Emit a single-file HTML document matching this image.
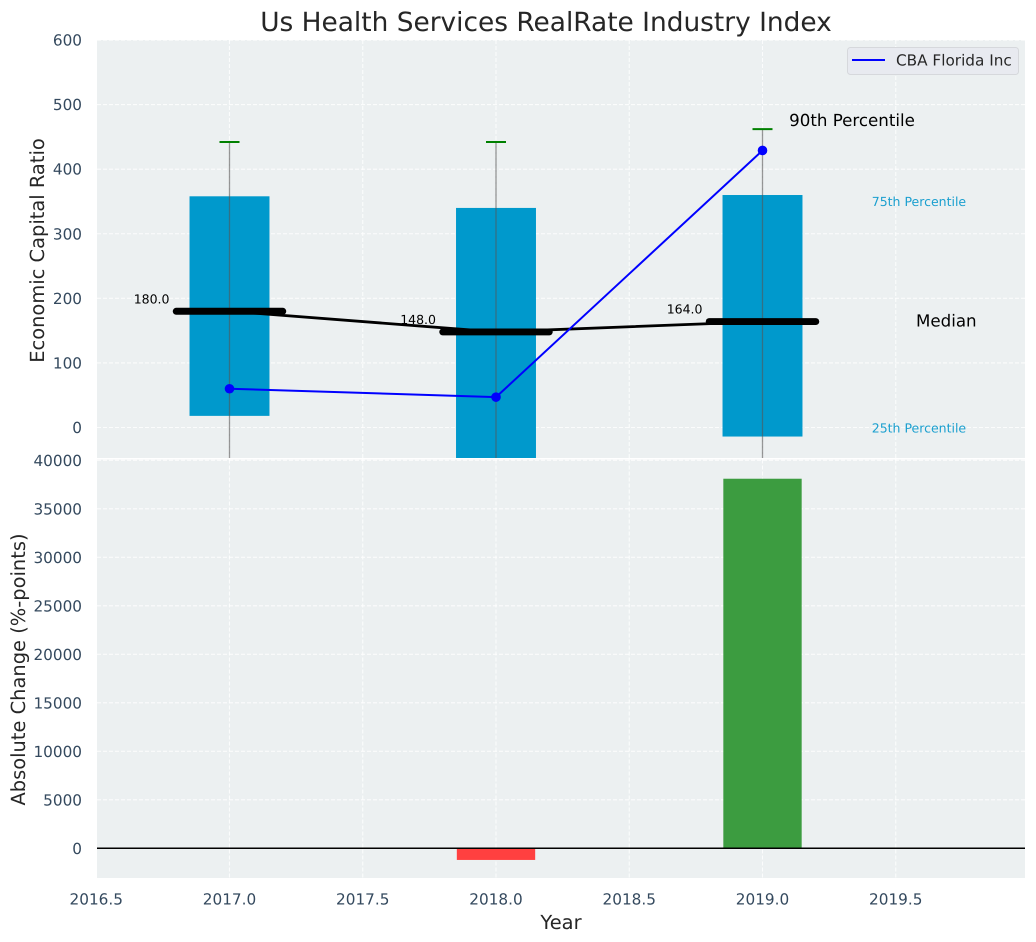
<!DOCTYPE html>
<html>
<head>
<meta charset="utf-8">
<title>Us Health Services RealRate Industry Index</title>
<style>
html,body{margin:0;padding:0;background:#fff;width:1036px;height:942px;overflow:hidden}
svg{display:block}
text{font-family:"DejaVu Sans","Liberation Sans",sans-serif;text-rendering:geometricPrecision}
</style>
</head>
<body>
<svg id="chart" xmlns="http://www.w3.org/2000/svg" width="1036" height="942" viewBox="0 0 1036 942">
<defs>
<clipPath id="clip-top"><rect x="97" y="40" width="928" height="418"/></clipPath>
<clipPath id="clip-bottom"><rect x="97" y="459.5" width="928" height="418.5"/></clipPath>
</defs>
<rect x="97" y="40" width="928" height="418" fill="#ecf0f1"/>
<rect x="97" y="459.5" width="928" height="418.5" fill="#ecf0f1"/>
<g id="grid-layer"></g>
<g id="top-marks" clip-path="url(#clip-top)"></g>
<g id="bottom-marks" clip-path="url(#clip-bottom)"></g>
<g id="tick-layer"></g>
<text x="546" y="31" text-anchor="middle" font-size="26.4" fill="#262626">Us Health Services RealRate Industry Index</text>
<text transform="translate(44,250.5) rotate(-90)" text-anchor="middle" font-size="19.44" fill="#262626">Economic Capital Ratio</text>
<text transform="translate(25,669.5) rotate(-90)" text-anchor="middle" font-size="19.44" fill="#262626">Absolute Change (%-points)</text>
<text x="561" y="929" text-anchor="middle" font-size="19.44" fill="#262626">Year</text>
<g>
<rect x="847.5" y="47.5" width="171" height="27" rx="3" fill="#e8eaf0" stroke="#d6d8dc" stroke-width="1"/>
<line x1="852" y1="60" x2="885" y2="60" stroke="#0000ff" stroke-width="2"/>
<text x="896" y="65.5" font-size="15.28" fill="#262626">CBA Florida Inc</text>
</g>
</svg>
<script>
var years = [2017, 2018, 2019];
var q75 = [358, 340, 360];
var q25 = [18, -60, -14];
var p90 = [442, 442, 462];
var p10 = [-120, -120, -120];
var medians = [180, 148, 164];
var company = [60, 47, 429];
var changes = [0, -1200, 38100];
var xTicks = [2016.5, 2017.0, 2017.5, 2018.0, 2018.5, 2019.0, 2019.5];
var xTickLabels = ['2016.5', '2017.0', '2017.5', '2018.0', '2018.5', '2019.0', '2019.5'];
var topTicks = [0, 100, 200, 300, 400, 500, 600];
var bottomTicks = [0, 5000, 10000, 15000, 20000, 25000, 30000, 35000, 40000];

function xPos(v) { return 229.5 + (v - 2017) * 266.5; }
function yTop(v) { return 427.5 - v * 0.6458; }
function yBottom(v) { return 848.3 - v * 0.0097; }

var NS = 'http://www.w3.org/2000/svg';
function make(parent, tag, props, content) {
  var node = document.createElementNS(NS, tag);
  for (var k in props) { node.setAttribute(k, props[k]); }
  if (content !== undefined) { node.textContent = content; }
  parent.appendChild(node);
  return node;
}
var gridLayer = document.getElementById('grid-layer');
var tickLayer = document.getElementById('tick-layer');
var topMarks = document.getElementById('top-marks');
var bottomMarks = document.getElementById('bottom-marks');
var gridStyle = {stroke: '#ffffff', 'stroke-width': 1.1, 'stroke-dasharray': '4 2', opacity: 0.8};
function gridLine(x1, y1, x2, y2) {
  var props = {x1: x1, y1: y1, x2: x2, y2: y2};
  for (var k in gridStyle) { props[k] = gridStyle[k]; }
  return make(gridLayer, 'line', props);
}

xTicks.forEach(function (t, i) {
  var gridTop = gridLine(xPos(t), 40, xPos(t), 458);
  
  
  var gridBottom = gridLine(xPos(t), 459.5, xPos(t), 878);
  
  
  var label = make(tickLayer, 'text', {x: xPos(t), y: 904.5, 'text-anchor': 'middle', 'font-size': 15.28, fill: '#34495e'}, xTickLabels[i]);
  
  
});
topTicks.forEach(function (t) {
  var grid = gridLine(97, yTop(t), 1025, yTop(t));
  
  
  var label = make(tickLayer, 'text', {x: 82, y: yTop(t) + 5.5, 'text-anchor': 'end', 'font-size': 15.28, fill: '#34495e'}, String(t));
  
  
});
bottomTicks.forEach(function (t) {
  var grid = gridLine(97, yBottom(t), 1025, yBottom(t));
  
  
  var label = make(tickLayer, 'text', {x: 82, y: yBottom(t) + 5.5, 'text-anchor': 'end', 'font-size': 15.28, fill: '#34495e'}, String(t));
  
  
});

var boxHalf = 0.15;
var medianHalf = 0.2;
years.forEach(function (yr, i) {
  var box = make(topMarks, 'rect', {x: xPos(yr - boxHalf), y: yTop(q75[i]), width: xPos(yr + boxHalf) - xPos(yr - boxHalf), height: yTop(q25[i]) - yTop(q75[i]), fill: '#0099cc'});
  
  
});
var medianPath = make(topMarks, 'polyline', {points: years.map(function (yr, i) { return xPos(yr) + ',' + yTop(medians[i]); }).join(' '), fill: 'none', stroke: '#000000', 'stroke-width': 2.8});


years.forEach(function (yr, i) {
  var whisker = make(topMarks, 'line', {x1: xPos(yr), y1: yTop(p10[i]), x2: xPos(yr), y2: yTop(p90[i]), stroke: '#555555', 'stroke-width': 1.3, opacity: 0.6});
  
  
  var cap = make(topMarks, 'line', {x1: xPos(yr) - 10, y1: yTop(p90[i]), x2: xPos(yr) + 10, y2: yTop(p90[i]), stroke: '#008000', 'stroke-width': 2});
  
  
  var med = make(topMarks, 'line', {x1: xPos(yr - medianHalf), y1: yTop(medians[i]), x2: xPos(yr + medianHalf), y2: yTop(medians[i]), stroke: '#000000', 'stroke-width': 6.9, 'stroke-linecap': 'round'});
  
  
  var medLabel = make(topMarks, 'text', {x: xPos(yr) - 60, y: yTop(medians[i]) - 8, 'text-anchor': 'end', 'font-size': 12.5, fill: '#000000'}, medians[i].toFixed(1));
  
  
});
var companyLine = make(topMarks, 'polyline', {points: years.map(function (yr, i) { return xPos(yr) + ',' + yTop(company[i]); }).join(' '), fill: 'none', stroke: '#0000ff', 'stroke-width': 2});


years.forEach(function (yr, i) {
  var dot = make(topMarks, 'circle', {cx: xPos(yr), cy: yTop(company[i]), r: 4.8, fill: '#0000ff'});
  
  
});

years.forEach(function (yr, i) {
  if (!changes[i]) { return; }
  var y0 = yBottom(Math.max(changes[i], 0));
  var y1 = yBottom(Math.min(changes[i], 0));
  var bar = make(bottomMarks, 'rect', {x: xPos(yr - 0.147), y: y0, width: xPos(yr + 0.147) - xPos(yr - 0.147), height: y1 - y0, fill: changes[i] < 0 ? '#ff4040' : '#3c9c40'});
  
  
});
var zeroLine = make(bottomMarks, 'line', {x1: 97, y1: yBottom(0), x2: 1025, y2: yBottom(0), stroke: '#000000', 'stroke-width': 1.5});



var label90 = make(topMarks, 'text', {x: xPos(2019.1), y: yTop(p90[2]) - 3, 'font-size': 16.67, fill: '#000000'}, '90th Percentile');


var label75 = make(topMarks, 'text', {x: xPos(2019.41), y: yTop(q75[2]) + 11, 'font-size': 12.5, fill: '#1a9fcf'}, '75th Percentile');


var labelMedian = make(topMarks, 'text', {x: xPos(2019.576), y: yTop(medians[2]) + 5, 'font-size': 16.67, fill: '#000000'}, 'Median');


var label25 = make(topMarks, 'text', {x: xPos(2019.41), y: yTop(q25[2]) - 4, 'font-size': 12.5, fill: '#1a9fcf'}, '25th Percentile');


</script>
</body>
</html>
